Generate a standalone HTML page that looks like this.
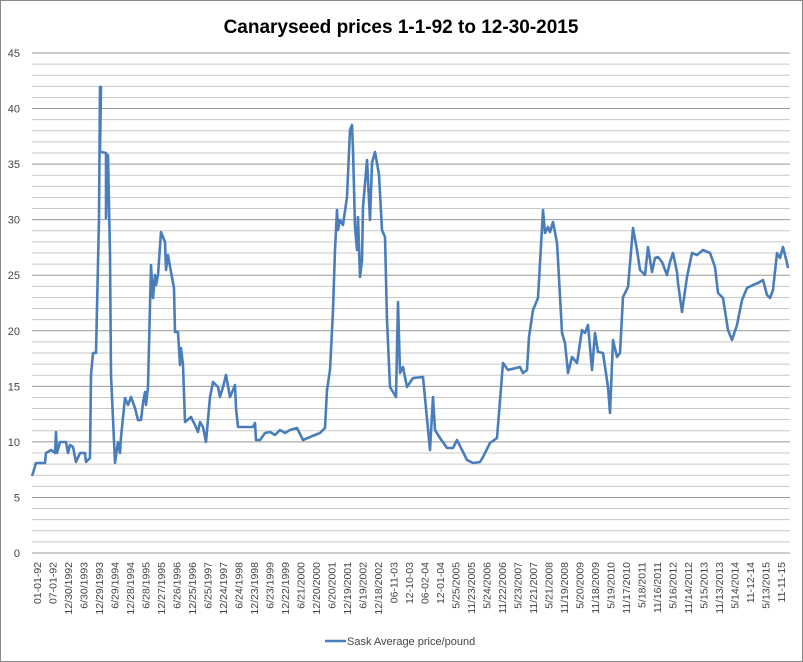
<!DOCTYPE html>
<html><head><meta charset="utf-8"><style>
body{margin:0;background:#fff;}
svg{display:block;font-family:"Liberation Sans",sans-serif;}
</style></head><body>
<svg width="803" height="662" viewBox="0 0 803 662">
<rect x="0.5" y="0.5" width="802" height="661" fill="#fff" stroke="#888"/>
<text x="401" y="33" text-anchor="middle" font-size="19" font-weight="bold" fill="#000">Canaryseed prices 1-1-92 to 12-30-2015</text>
<g id="grid" stroke-width="1"></g>
<g id="ylab" font-size="11" fill="#444" text-anchor="end"></g>
<g id="xlab" font-size="10.5" fill="#444"></g>
<polyline fill="none" stroke="#4a7ebb" stroke-width="2.6" stroke-linejoin="round" points="32,476 33,473 36,463 45,463 46,453 51,450 55,453 56,432 57,453 60,442 66,442 68,453 70,445 73,447 76,462 80,453 85,453 86,462 90,458 91,375 93,353 96,353 97,308 99,218 100,87 101,87 100,152 101,152 106,153 106,218 108,155 110,255 111,375 115,463 118,442 120,453 121,437 125,398 128,405 131,397 135,408 138,420 141,420 143,403 145,392 146,405 148,387 151,265 153,298 155,275 156,285 158,275 161,232 165,242 166,270 168,255 171,272 174,288 175,332 178,332 180,365 181,348 183,365 185,422 191,417 195,425 198,432 200,422 203,427 206,442 210,397 213,382 218,387 220,397 223,387 226,375 230,397 233,390 235,385 236,408 238,427 253,427 255,423 256,440 260,440 265,433 270,432 275,435 280,430 285,433 290,430 297,428 303,440 310,437 320,433 325,428 327,390 330,370 333,310 335,250 337,210 338,230 340,220 343,225 347,197 350,130 352,125 353,150 355,227 357,250 358,217 360,277 362,260 363,207 367,160 370,220 372,163 375,152 377,163 379,175 382,230 385,237 387,320 390,387 396,397 398,302 400,373 403,367 407,387 413,378 423,377 430,450 433,397 435,430 440,438 447,448 453,448 457,440 462,450 467,460 473,463 480,462 483,457 490,443 497,438 503,363 508,370 520,367 523,373 527,370 529,337 533,310 538,298 543,210 545,233 548,227 550,232 553,222 557,243 558,260 562,333 565,343 568,373 572,357 577,363 582,330 585,333 588,325 592,370 595,333 598,352 603,353 608,387 610,413 613,340 617,357 620,353 623,297 628,287 633,228 637,250 640,270 645,275 648,247 652,272 655,258 658,257 662,262 667,275 670,262 673,253 677,272 678,283 682,312 687,277 692,253 697,255 703,250 710,253 715,267 718,293 723,298 728,330 732,340 737,325 742,300 747,288 753,285 758,283 763,280 767,295 770,298 773,290 777,253 780,258 783,247 787,263 788,268"/>
<line x1="325" y1="641" x2="346" y2="641" stroke="#4a7ebb" stroke-width="2.6"/>
<text x="347" y="645" font-size="11" fill="#444">Sask Average price/pound</text>
</svg>
<script>
var ns="http://www.w3.org/2000/svg";
var g=document.getElementById('grid'),yl=document.getElementById('ylab'),xl=document.getElementById('xlab');
for(var v=0;v<=45;v++){var y=553-v*11.111;var l=document.createElementNS(ns,'line');
l.setAttribute('x1',32);l.setAttribute('x2',790);l.setAttribute('y1',y);l.setAttribute('y2',y);
l.setAttribute('stroke',v%5==0?'#999':'#c8c8c8');g.appendChild(l);
if(v%5==0){var t=document.createElementNS(ns,'text');t.setAttribute('x',20);t.setAttribute('y',y+4);t.textContent=v;yl.appendChild(t);}}
var labs=["01-01-92","07-01-92","12/30/1992","6/30/1993","12/29/1993","6/29/1994","12/28/1994","6/28/1995","12/27/1995","6/26/1996","12/25/1996","6/25/1997","12/24/1997","6/24/1998","12/23/1998","6/23/1999","12/22/1999","6/21/2000","12/20/2000","6/20/2001","12/19/2001","6/19/2002","12/18/2002","06-11-03","12-10-03","06-02-04","12-01-04","5/25/2005","11/23/2005","5/24/2006","11/22/2006","5/23/2007","11/21/2007","5/21/2008","11/19/2008","5/20/2009","11/18/2009","5/19/2010","11/17/2010","5/18/2011","11/16/2011","5/16/2012","11/14/2012","5/15/2013","11/13/2013","5/14/2014","11-12-14","5/13/2015","11-11-15"];
var n=labs.length;
for(var i=0;i<n;i++){var x=37+i*(781-37)/(n-1)+4;var t=document.createElementNS(ns,'text');
t.setAttribute('transform','translate('+x+',562) rotate(-90)');t.setAttribute('text-anchor','end');t.textContent=labs[i];xl.appendChild(t);}
</script>
</body></html>
